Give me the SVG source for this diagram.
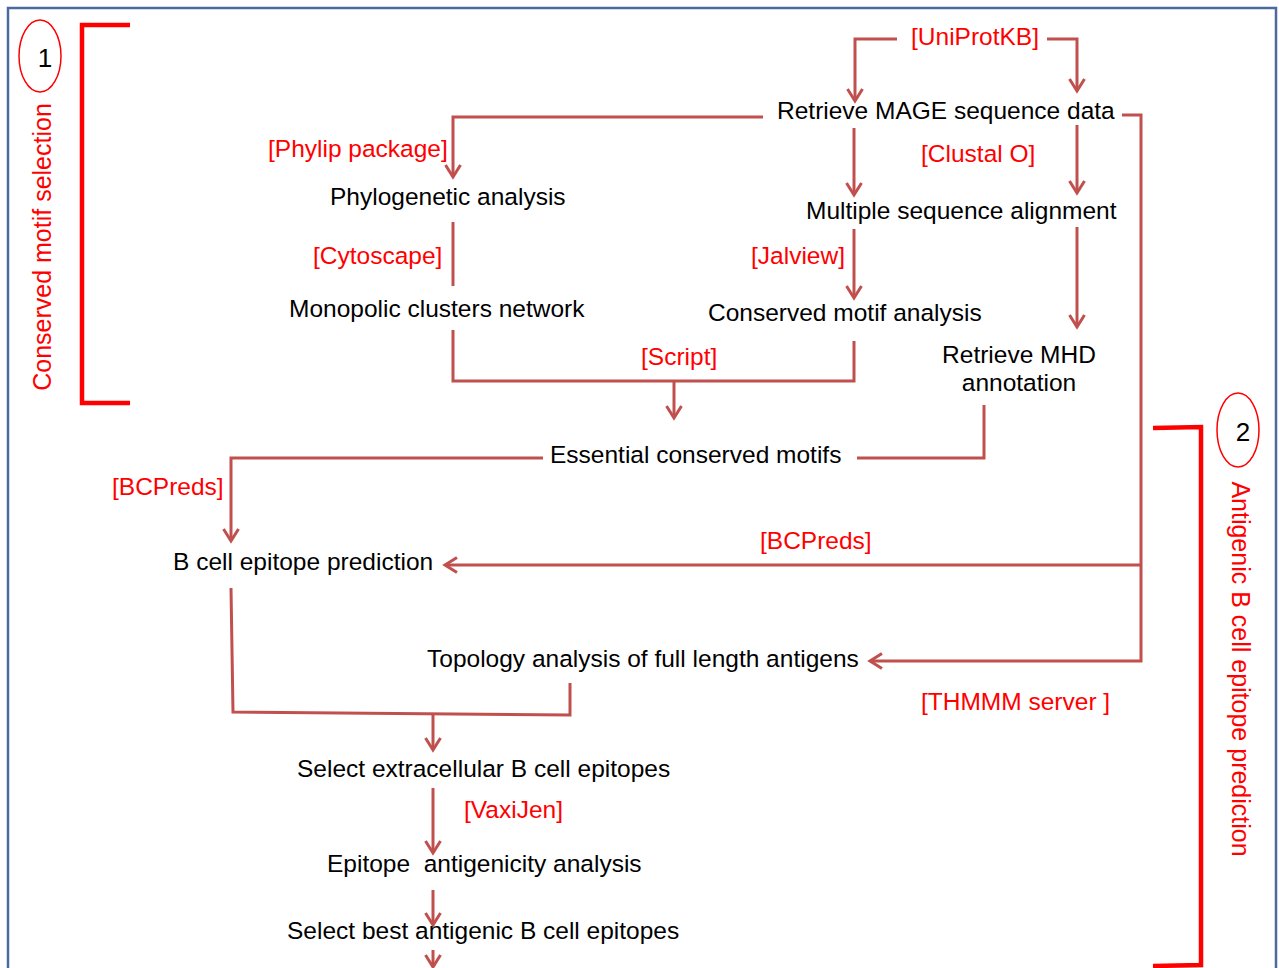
<svg xmlns="http://www.w3.org/2000/svg" width="1279" height="968" viewBox="0 0 1279 968">
<style>
.t{font-family:"Liberation Sans",Arial,sans-serif;font-size:24.5px;fill:#000}
.r{fill:#ff0000}
.c{stroke:#c0504d;stroke-width:3;fill:none}
.b{stroke:#ff0000;stroke-width:4.5;fill:none}
.n{font-family:"Liberation Sans",Arial,sans-serif;font-size:26px;fill:#000;text-anchor:middle}
.e{fill:none;stroke:#ff0000;stroke-width:1.5}
</style>
<defs>
<marker id="ah" markerUnits="userSpaceOnUse" markerWidth="20" markerHeight="20" viewBox="-14 -10 16 20" refX="0" refY="0" orient="auto">
<path d="M-12,-7.5 L0,0 L-12,7.5" fill="none" stroke="#c0504d" stroke-width="3"/>
</marker>
</defs>
<rect x="0" y="0" width="1279" height="968" fill="#fff"/>
<rect id="frame" x="8" y="8" width="1268" height="990" fill="none" stroke="#4a6b9c" stroke-width="2.5"/>

<g id="section1">
<path class="b" d="M130,25 L82,25 L82,403 L130,403"/>
<ellipse class="e" cx="40" cy="56" rx="21" ry="36"/>
<text class="n" x="45" y="67">1</text>
<text class="t r" style="font-size:25px" text-anchor="middle" transform="translate(51,247) rotate(-90)">Conserved motif selection</text>
</g>
<g id="section2">
<path class="b" d="M1153,428 L1201,427 L1201,965 L1153,966"/>
<ellipse class="e" cx="1238" cy="430" rx="21" ry="37"/>
<text class="n" x="1243" y="441">2</text>
<text class="t r" style="font-size:25px" text-anchor="middle" transform="translate(1232,669) rotate(90)">Antigenic B cell epitope prediction</text>
</g>

<g id="connectors">
<path class="c" d="M897,39 L855,39 L855,101" marker-end="url(#ah)"/>
<path class="c" d="M1047,39 L1077,39 L1077,91" marker-end="url(#ah)"/>
<path class="c" d="M763,117 L453,117 L453,177" marker-end="url(#ah)"/>
<path class="c" d="M1122,115 L1141,115 L1141,661 L870,661" marker-end="url(#ah)"/>
<path class="c" d="M1141,565 L445,565" marker-end="url(#ah)"/>
<path class="c" d="M854,128 L854,195" marker-end="url(#ah)"/>
<path class="c" d="M1077,125 L1077,193" marker-end="url(#ah)"/>
<path class="c" d="M854,229 L854,298" marker-end="url(#ah)"/>
<path class="c" d="M1077,227 L1077,327" marker-end="url(#ah)"/>
<path class="c" d="M453,222 L453,286"/>
<path class="c" d="M453,330 L453,381 L854,381 L854,341"/>
<path class="c" d="M674,381 L674,418" marker-end="url(#ah)"/>
<path class="c" d="M984,405 L984,458 L857,458"/>
<path class="c" d="M543,458 L231,458 L231,541" marker-end="url(#ah)"/>
<path class="c" d="M231,588 L233,712 L570,715 L570,683"/>
<path class="c" d="M433,713 L433,750" marker-end="url(#ah)"/>
<path class="c" d="M433,788 L433,853" marker-end="url(#ah)"/>
<path class="c" d="M433,890 L433,925" marker-end="url(#ah)"/>
<path class="c" d="M433,950 L433,967" marker-end="url(#ah)"/>
</g>

<g id="n-uniprot"><text class="t r" x="911" y="45">[UniProtKB]</text></g>
<g id="n-retrieve-mage"><text class="t" x="777" y="119">Retrieve MAGE sequence data</text></g>
<g id="l-phylip"><text class="t r" x="268" y="157">[Phylip package]</text></g>
<g id="l-clustal"><text class="t r" x="921" y="162">[Clustal O]</text></g>
<g id="n-phylo"><text class="t" x="330" y="205">Phylogenetic analysis</text></g>
<g id="n-msa"><text class="t" x="806" y="219">Multiple sequence alignment</text></g>
<g id="l-cytoscape"><text class="t r" x="313" y="264">[Cytoscape]</text></g>
<g id="l-jalview"><text class="t r" x="751" y="264">[Jalview]</text></g>
<g id="n-monopolic"><text class="t" x="289" y="317">Monopolic clusters network</text></g>
<g id="n-motif"><text class="t" x="708" y="321">Conserved motif analysis</text></g>
<g id="n-mhd"><text class="t" x="1019" y="363" text-anchor="middle">Retrieve MHD</text><text class="t" x="1019" y="391" text-anchor="middle">annotation</text></g>
<g id="l-script"><text class="t r" x="641" y="365">[Script]</text></g>
<g id="n-essential"><text class="t" x="550" y="463">Essential conserved motifs</text></g>
<g id="l-bcpreds1"><text class="t r" x="112" y="495">[BCPreds]</text></g>
<g id="l-bcpreds2"><text class="t r" x="760" y="549">[BCPreds]</text></g>
<g id="n-bcell"><text class="t" x="173" y="570">B cell epitope prediction</text></g>
<g id="n-topology"><text class="t" x="427" y="667">Topology analysis of full length antigens</text></g>
<g id="l-thmmm"><text class="t r" x="921" y="710">[THMMM server ]</text></g>
<g id="n-select-extra"><text class="t" x="297" y="777">Select extracellular B cell epitopes</text></g>
<g id="l-vaxijen"><text class="t r" x="464" y="818">[VaxiJen]</text></g>
<g id="n-antigenicity"><text class="t" x="327" y="872" style="white-space:pre">Epitope  antigenicity analysis</text></g>
<g id="n-select-best"><text class="t" x="287" y="939">Select best antigenic B cell epitopes</text></g>
</svg>
